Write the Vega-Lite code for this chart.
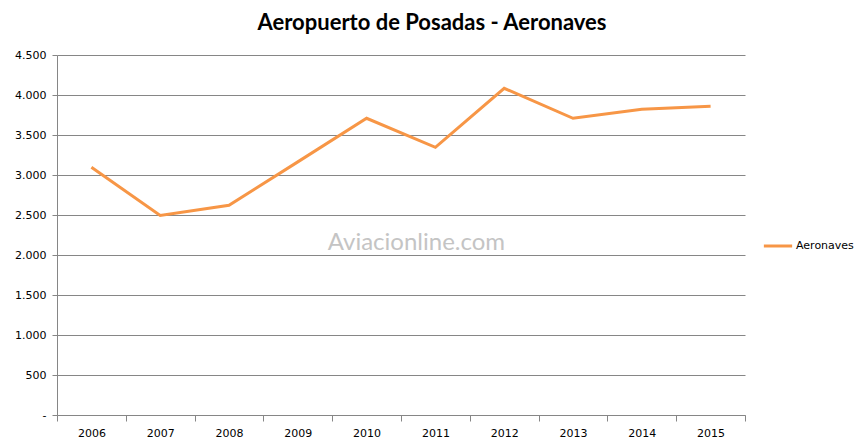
{
  "$schema": "https://vega.github.io/schema/vega-lite/v6.json",
  "width": 688,
  "height": 360,
  "autosize": "none",
  "padding": {"left": 57, "top": 55, "right": 120, "bottom": 33},
  "background": "white",
  "config": {"view": {"stroke": null}},
  "title": {
    "text": "Aeropuerto de Posadas - Aeronaves",
    "font": "Lato",
    "fontSize": 22,
    "fontWeight": "bold",
    "color": "#000000",
    "anchor": "middle",
    "dx": 31,
    "offset": 14
  },
  "resolve": {"axis": {"x": "independent", "y": "independent"}},
  "data": {
    "values": [
      {"year": "2006", "value": 3096, "serie": "Aeronaves"},
      {"year": "2007", "value": 2495, "serie": "Aeronaves"},
      {"year": "2008", "value": 2621, "serie": "Aeronaves"},
      {"year": "2009", "value": 3164, "serie": "Aeronaves"},
      {"year": "2010", "value": 3709, "serie": "Aeronaves"},
      {"year": "2011", "value": 3346, "serie": "Aeronaves"},
      {"year": "2012", "value": 4084, "serie": "Aeronaves"},
      {"year": "2013", "value": 3709, "serie": "Aeronaves"},
      {"year": "2014", "value": 3821, "serie": "Aeronaves"},
      {"year": "2015", "value": 3859, "serie": "Aeronaves"}
    ]
  },
  "layer": [
    {
      "mark": {"type": "line", "strokeWidth": 3, "strokeJoin": "miter", "interpolate": "linear"},
      "encoding": {
        "x": {
          "field": "year",
          "type": "ordinal",
          "scale": {"type": "band", "paddingInner": 0, "paddingOuter": 0},
          "axis": {
            "title": null,
            "tickBand": "extent",
            "labelAngle": 0,
            "labelFont": "DejaVu Sans",
            "labelFontSize": 11,
            "labelColor": "#000000",
            "labelPadding": 6,
            "domainColor": "#868686",
            "tickColor": "#868686",
            "tickSize": 6,
            "grid": false
          }
        },
        "y": {
          "field": "value",
          "type": "quantitative",
          "scale": {"domain": [0, 4500], "nice": false},
          "axis": {
            "title": null,
            "values": [0, 500, 1000, 1500, 2000, 2500, 3000, 3500, 4000, 4500],
            "labelExpr": "datum.value == 0 ? '-   ' : replace(format(datum.value, ','), ',', '.')",
            "labelFont": "DejaVu Sans",
            "labelFontSize": 11,
            "labelColor": "#000000",
            "labelPadding": 6,
            "domainColor": "#868686",
            "tickColor": "#868686",
            "tickSize": 5,
            "grid": true,
            "gridColor": "#868686",
            "gridWidth": 1
          }
        },
        "color": {
          "field": "serie",
          "type": "nominal",
          "scale": {"range": ["#F79646"]},
          "legend": {
            "title": null,
            "orient": "none",
            "legendX": 705,
            "legendY": 175,
            "symbolType": "stroke",
            "symbolSize": 800,
            "symbolStrokeWidth": 3,
            "labelFont": "DejaVu Sans",
            "labelFontSize": 11,
            "labelColor": "#000000",
            "labelOffset": 2
          }
        }
      }
    },
    {
      "data": {"values": [{"txt": "Aviacionline.com", "x": "2011", "y": 2150}]},
      "mark": {"type": "text", "font": "Lato", "fontSize": 24, "color": "#c4c4c4", "dx": -19, "baseline": "middle", "align": "center"},
      "encoding": {
        "x": {"field": "x", "type": "ordinal", "band": 0.5, "axis": null},
        "y": {"field": "y", "type": "quantitative", "axis": null},
        "text": {"field": "txt"}
      }
    }
  ]
}
